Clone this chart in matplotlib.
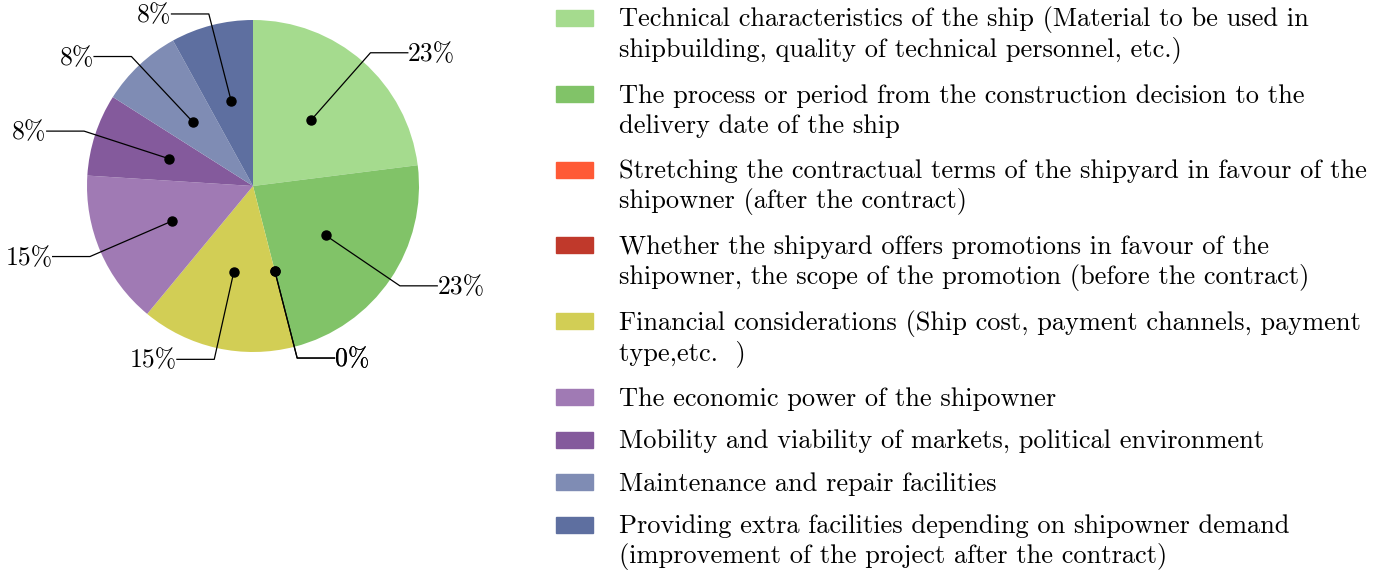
import matplotlib.pyplot as plt
from matplotlib.patches import Rectangle
import numpy as np

plt.rcParams['font.family'] = ['cmr10', 'DejaVu Serif']

categories = [
    'Technical characteristics of the ship (Material to be used in\nshipbuilding, quality of technical personnel, etc.)',
    'The process or period from the construction decision to the\ndelivery date of the ship',
    'Stretching the contractual terms of the shipyard in favour of the\nshipowner (after the contract)',
    'Whether the shipyard offers promotions in favour of the\nshipowner, the scope of the promotion (before the contract)',
    'Financial considerations (Ship cost, payment channels, payment\ntype,etc.  )',
    'The economic power of the shipowner',
    'Mobility and viability of markets, political environment',
    'Maintenance and repair facilities',
    'Providing extra facilities depending on shipowner demand\n(improvement of the project after the contract)',
]
percent = [23, 23, 0, 0, 15, 15, 8, 8, 8]
colors = ['#a5db8e', '#81c368', '#ff5a36', '#c0392b', '#d2ce55',
          '#a07ab4', '#845a9c', '#7f8cb4', '#5e6fa0']

W, H = 1384, 574
fig = plt.figure(figsize=(W / 100, H / 100), dpi=100)

# pie axes: centre at (253,186) px, radius 166 px
R = 166.0
ax_l, ax_t, ax_w, ax_h = 0, 0, 520, 380
ax = fig.add_axes([ax_l / W, 1 - (ax_t + ax_h) / H, ax_w / W, ax_h / H])
cx, cy = 253, 186

wedges, _ = ax.pie(percent, colors=colors, startangle=90, counterclock=False,
                   radius=1, wedgeprops=dict(linewidth=0))
ax.set_xlim(-(cx - ax_l) / R, (ax_l + ax_w - cx) / R)
ax.set_ylim(-(ax_t + ax_h - cy) / R, (cy - ax_t) / R)
ax.set_aspect('equal')
ax.axis('off')

for w, p in zip(wedges, percent):
    ang = np.deg2rad((w.theta1 + w.theta2) / 2)
    dx, dy = np.cos(ang), np.sin(ang)
    px, py = 0.53 * dx, 0.53 * dy
    ex, ey = 1.07 * dx, 1.07 * dy
    side = 1 if dx >= 0 else -1
    hx = ex + side * 0.225
    ax.plot([px, ex, hx], [py, ey, ey], color='black', lw=0.9, zorder=3)
    ax.plot(px, py, 'o', color='black', ms=6.5, zorder=4)
    ax.text(hx, ey - 0.008, f'{p}%', ha='left' if side > 0 else 'right', va='center',
            fontsize=18.5, zorder=5)

# legend drawn by hand
y = 18
for lab, c in zip(categories, colors):
    fig.patches.append(Rectangle((556 / W, 1 - (y + 8) / H), 37 / W, 16 / H,
                                 transform=fig.transFigure, color=c))
    lines = lab.split('\n')
    for i, ln in enumerate(lines):
        fig.text(619 / W, 1 - (y + 2 + 30 * i) / H, ln, ha='left', va='center', fontsize=19)
    y += 42.5 + 33.3 * (len(lines) - 1)

fig.savefig('out.png', dpi=100, facecolor='white')
